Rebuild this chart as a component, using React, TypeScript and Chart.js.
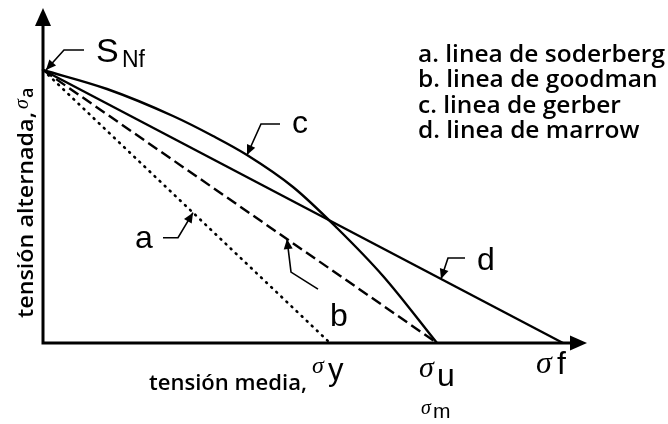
import { useEffect, useRef } from "react";
import { Chart, registerables } from "chart.js";

Chart.register(...registerables);

// Fatigue strength at N cycles and the three material limits on the mean-stress axis
const S_NF = 273;
const SIGMA_Y = 287;
const SIGMA_U = 394;
const SIGMA_F = 520;

// Axis extents (arrow tips)
const X_MAX = 544;
const Y_MAX = 335;

// a. Soderberg line
const soderbergX = [0, SIGMA_Y];
const soderbergY = [S_NF, 0];
// b. Goodman line
const goodmanX = [0, SIGMA_U];
const goodmanY = [S_NF, 0];
// c. Gerber curve
const gerberX = [0, 64, 130, 170, 204, 250, 294, 340, 394];
const gerberY = [273, 254, 227, 207, 188, 156, 115, 67, 0];
// d. Morrow line
const marrowX = [0, SIGMA_F];
const marrowY = [S_NF, 0];

const legendLines = [
  "a. linea de soderberg",
  "b. linea de goodman",
  "c. linea de gerber",
  "d. linea de marrow",
];

// Points on each curve where the letter callouts point
const tipA = 150;
const tipB = 244;
const tipC = 204;
const tipD = 398;

const SANS = '"Liberation Sans", Arial, sans-serif';
const HUMAN = '"Open Sans", "Noto Sans", sans-serif';
const SERIF = '"Liberation Serif", "DejaVu Serif", serif';

const pts = (xs: number[], ys: number[]) => xs.map((x, i) => ({ x, y: ys[i] }));
const onLine = (x: number, xEnd: number) => S_NF * (1 - x / xEnd);

function fitText(ctx: CanvasRenderingContext2D, text: string, x: number, y: number, width: number) {
  const w = ctx.measureText(text).width;
  ctx.save();
  ctx.translate(x, y);
  ctx.scale(width / w, 1);
  ctx.fillText(text, 0, 0);
  ctx.restore();
}

function arrowHead(ctx: CanvasRenderingContext2D, fx: number, fy: number, tx: number, ty: number, len: number, half: number) {
  const a = Math.atan2(ty - fy, tx - fx);
  const c = Math.cos(a), s = Math.sin(a);
  ctx.beginPath();
  ctx.moveTo(tx, ty);
  ctx.lineTo(tx - len * c + half * s, ty - len * s - half * c);
  ctx.lineTo(tx - len * c - half * s, ty - len * s + half * c);
  ctx.closePath();
  ctx.fill();
}

// Callout: polyline from the label side to the tip, ending in a filled arrowhead
function leader(ctx: CanvasRenderingContext2D, tx: number, ty: number, bend: [number, number], end: [number, number]) {
  const bx = tx + bend[0], by = ty + bend[1];
  ctx.save();
  ctx.lineWidth = 1.6;
  ctx.beginPath();
  ctx.moveTo(tx + end[0], ty + end[1]);
  ctx.lineTo(bx, by);
  ctx.lineTo(tx, ty);
  ctx.stroke();
  arrowHead(ctx, bx, by, tx, ty, 10, 4.5);
  ctx.restore();
}

const diagramDecor = {
  id: "diagramDecor",
  beforeDatasetsDraw(chart: any) {
    const ctx: CanvasRenderingContext2D = chart.ctx;
    const X = (v: number) => chart.scales.x.getPixelForValue(v);
    const Y = (v: number) => chart.scales.y.getPixelForValue(v);
    const x0 = X(0), y0 = Y(0), xe = X(X_MAX), yt = Y(Y_MAX);
    ctx.save();
    ctx.fillStyle = "#000";
    ctx.strokeStyle = "#000";
    ctx.lineWidth = 3;
    ctx.lineCap = "butt";
    ctx.beginPath();
    ctx.moveTo(x0, y0 + 1.5);
    ctx.lineTo(x0, yt + 14);
    ctx.moveTo(x0 - 1.5, y0);
    ctx.lineTo(xe - 14, y0);
    ctx.stroke();
    arrowHead(ctx, x0, y0, x0, yt, 18, 8);
    arrowHead(ctx, x0, y0, xe, y0, 17, 7.5);
    ctx.restore();
  },
  afterDatasetsDraw(chart: any) {
    const ctx: CanvasRenderingContext2D = chart.ctx;
    const X = (v: number) => chart.scales.x.getPixelForValue(v);
    const Y = (v: number) => chart.scales.y.getPixelForValue(v);
    const x0 = X(0), y0 = Y(0);
    ctx.save();
    ctx.fillStyle = "#000";
    ctx.strokeStyle = "#000";
    ctx.textBaseline = "alphabetic";
    ctx.textAlign = "left";

    // S_Nf
    const sx = X(0) + 3, sy = Y(S_NF);
    leader(ctx, sx, sy, [18, -20], [38, -20]);
    ctx.font = `34px ${SANS}`;
    ctx.fillText("S", sx + 50, sy - 8);
    ctx.font = `23px ${SANS}`;
    ctx.fillText("Nf", sx + 76, sy - 3);

    // Letter callouts
    ctx.font = `32px ${SANS}`;
    const ax = X(tipA), ay = Y(onLine(tipA, SIGMA_Y));
    leader(ctx, ax, ay, [-15, 25], [-30, 25]);
    ctx.fillText("a", ax - 58, ay + 35);
    const bx = X(tipB), by = Y(onLine(tipB, SIGMA_U));
    leader(ctx, bx, by, [4, 33], [31, 50]);
    ctx.fillText("b", bx + 43, by + 87);
    const ci = gerberX.indexOf(tipC);
    const cx = X(tipC), cy = Y(gerberY[ci]);
    leader(ctx, cx, cy, [14, -31], [33, -31]);
    ctx.fillText("c", cx + 45, cy - 22);
    const dx = X(tipD), dy = Y(onLine(tipD, SIGMA_F));
    leader(ctx, dx, dy, [7, -21], [24, -21]);
    ctx.fillText("d", dx + 36, dy - 9);

    // Legend
    ctx.font = `600 23px ${HUMAN}`;
    const k = 247 / ctx.measureText(legendLines[0]).width;
    legendLines.forEach((t, i) => {
      ctx.save();
      ctx.translate(418, 62 + i * 25.3);
      ctx.scale(k, 1);
      ctx.fillText(t, 0, 0);
      ctx.restore();
    });

    // Vertical axis title
    ctx.save();
    ctx.translate(x0 - 10, y0 - 25);
    ctx.rotate(-Math.PI / 2);
    ctx.font = `600 22px ${HUMAN}`;
    fitText(ctx, "tensión alternada,", 0, 0, 206);
    ctx.font = `italic 20px ${SERIF}`;
    ctx.fillText("σ", 209, -5);
    ctx.font = `600 18px ${HUMAN}`;
    ctx.fillText("a", 220, 0);
    ctx.restore();

    // Horizontal axis title and limit marks
    ctx.font = `600 22px ${HUMAN}`;
    fitText(ctx, "tensión media,", 149, y0 + 47, 158);
    const yx = X(SIGMA_Y);
    ctx.font = `italic 24px ${SERIF}`;
    ctx.fillText("σ", yx - 18, y0 + 30);
    ctx.font = `31px ${SANS}`;
    ctx.fillText("y", yx - 2, y0 + 37);

    const ux = X(SIGMA_U);
    ctx.font = `italic 30px ${SERIF}`;
    ctx.fillText("σ", ux - 18, y0 + 34);
    ctx.font = `32px ${SANS}`;
    ctx.fillText("u", ux, y0 + 43);
    ctx.font = `italic 20px ${SERIF}`;
    ctx.fillText("σ", ux - 16, y0 + 71);
    ctx.font = `21px ${SANS}`;
    ctx.fillText("m", ux - 4, y0 + 75);

    const fx = X(SIGMA_F);
    ctx.font = `italic 32px ${SERIF}`;
    ctx.fillText("σ", fx - 27, y0 + 30);
    ctx.font = `32px ${SANS}`;
    ctx.fillText("f", fx - 6, y0 + 31);

    ctx.restore();
  },
};

export default function App() {
  const ref = useRef<HTMLCanvasElement | null>(null);

  useEffect(() => {
    if (!ref.current) return;
    const line = (data: any, dash: number[], extra: any = {}) => ({
      data,
      borderColor: "#000",
      borderWidth: 2.4,
      borderDash: dash,
      pointRadius: 0,
      showLine: true,
      fill: false,
      clip: false,
      ...extra,
    });
    const chart = new Chart(ref.current, {
      type: "scatter",
      data: {
        datasets: [
          line(pts(soderbergX, soderbergY), [1, 6], { borderCapStyle: "round", borderWidth: 2.6 }),
          line(pts(goodmanX, goodmanY), [11, 5]),
          line(pts(gerberX, gerberY), [], { cubicInterpolationMode: "monotone" }),
          line(pts(marrowX, marrowY), []),
        ],
      },
      options: {
        animation: false,
        responsive: false,
        events: [],
        layout: { padding: { left: 43, right: 81, top: 8, bottom: 81 } },
        scales: {
          x: { type: "linear", min: 0, max: X_MAX, display: false },
          y: { type: "linear", min: 0, max: Y_MAX, display: false },
        },
        plugins: { legend: { display: false }, tooltip: { enabled: false } },
      },
      plugins: [diagramDecor],
    });
    return () => chart.destroy();
  }, []);

  return (
    <div style={{ position: "fixed", left: 0, top: 0, width: 668, height: 424, background: "#fff" }}>
      <canvas ref={ref} width={668} height={424} style={{ display: "block" }} />
    </div>
  );
}
